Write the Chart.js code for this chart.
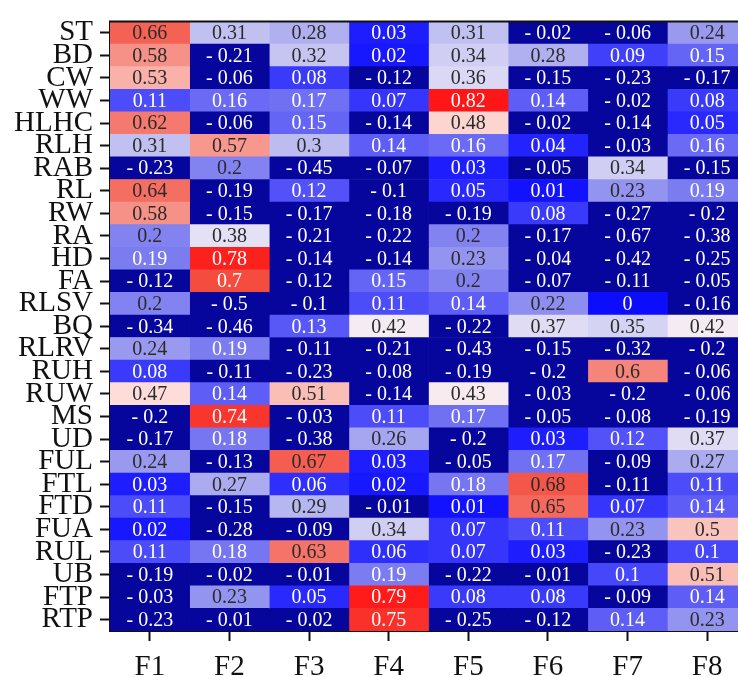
<!DOCTYPE html>
<html>
<head>
<meta charset="utf-8">
<script src="https://cdn.jsdelivr.net/npm/chart.js@4/dist/chart.umd.min.js"></script>
<style>
  html, body { margin: 0; padding: 0; background: #fff; overflow: hidden; }
  #wrap { position: absolute; left: 0; top: 0; width: 760px; height: 700px; }
</style>
</head>
<body>
<div id="wrap"><canvas id="heat" width="760" height="700"></canvas></div>
<script>
// Trait names (rows, top to bottom) and factor names (columns)
const rowLabels = ['ST', 'BD', 'CW', 'WW', 'HLHC', 'RLH', 'RAB', 'RL', 'RW', 'RA', 'HD', 'FA', 'RLSV',
  'BQ', 'RLRV', 'RUH', 'RUW', 'MS', 'UD', 'FUL', 'FTL', 'FTD', 'FUA', 'RUL', 'UB', 'FTP', 'RTP'];
const colLabels = ['F1', 'F2', 'F3', 'F4', 'F5', 'F6', 'F7', 'F8'];

// Factor loadings, one array per factor, in row order
const colF1 = [0.66, 0.58, 0.53, 0.11, 0.62, 0.31, -0.23, 0.64, 0.58, 0.2, 0.19, -0.12, 0.2,
  -0.34, 0.24, 0.08, 0.47, -0.2, -0.17, 0.24, 0.03, 0.11, 0.02, 0.11, -0.19, -0.03, -0.23];
const colF2 = [0.31, -0.21, -0.06, 0.16, -0.06, 0.57, 0.2, -0.19, -0.15, 0.38, 0.78, 0.7, -0.5,
  -0.46, 0.19, -0.11, 0.14, 0.74, 0.18, -0.13, 0.27, -0.15, -0.28, 0.18, -0.02, 0.23, -0.01];
const colF3 = [0.28, 0.32, 0.08, 0.17, 0.15, 0.3, -0.45, 0.12, -0.17, -0.21, -0.14, -0.12, -0.1,
  0.13, -0.11, -0.23, 0.51, -0.03, -0.38, 0.67, 0.06, 0.29, -0.09, 0.63, -0.01, 0.05, -0.02];
const colF4 = [0.03, 0.02, -0.12, 0.07, -0.14, 0.14, -0.07, -0.1, -0.18, -0.22, -0.14, 0.15, 0.11,
  0.42, -0.21, -0.08, -0.14, 0.11, 0.26, 0.03, 0.02, -0.01, 0.34, 0.06, 0.19, 0.79, 0.75];
const colF5 = [0.31, 0.34, 0.36, 0.82, 0.48, 0.16, 0.03, 0.05, -0.19, 0.2, 0.23, 0.2, 0.14,
  -0.22, -0.43, -0.19, 0.43, 0.17, -0.2, -0.05, 0.18, 0.01, 0.07, 0.07, -0.22, 0.08, -0.25];
const colF6 = [-0.02, 0.28, -0.15, 0.14, -0.02, 0.04, -0.05, 0.01, 0.08, -0.17, -0.04, -0.07, 0.22,
  0.37, -0.15, -0.2, -0.03, -0.05, 0.03, 0.17, 0.68, 0.65, 0.11, 0.03, -0.01, 0.08, -0.12];
const colF7 = [-0.06, 0.09, -0.23, -0.02, -0.14, -0.03, 0.34, 0.23, -0.27, -0.67, -0.42, -0.11, 0,
  0.35, -0.32, 0.6, -0.2, -0.08, 0.12, -0.09, -0.11, 0.07, 0.23, -0.23, 0.1, -0.09, 0.14];
const colF8 = [0.24, 0.15, -0.17, 0.08, 0.05, 0.16, -0.15, 0.19, -0.2, -0.38, -0.25, -0.05, -0.16,
  0.42, -0.2, -0.06, -0.06, -0.19, 0.37, 0.27, 0.11, 0.14, 0.5, 0.1, 0.51, 0.14, 0.23];

const columns = [colF1, colF2, colF3, colF4, colF5, colF6, colF7, colF8];

// Colour scale: negatives in navy, then blue -> white -> red
const NEGATIVE_RGB = [6, 6, 156];
const STOPS = [
  [0.0, [12, 12, 255]],
  [0.1, [70, 70, 250]],
  [0.2, [130, 130, 240]],
  [0.3, [188, 188, 240]],
  [0.4, [238, 234, 246]],
  [0.45, [255, 236, 236]],
  [0.5, [250, 196, 190]],
  [0.6, [245, 132, 122]],
  [0.7, [244, 76, 62]],
  [0.8, [255, 22, 22]]
];

function colourFor(v) {
  let rgb;
  if (v < 0) {
    rgb = NEGATIVE_RGB;
  } else if (v >= STOPS[STOPS.length - 1][0]) {
    rgb = STOPS[STOPS.length - 1][1];
  } else {
    for (let i = 0; i < STOPS.length - 1; i++) {
      const [a, ca] = STOPS[i];
      const [b, cb] = STOPS[i + 1];
      if (v >= a && v <= b) {
        const t = (v - a) / (b - a);
        rgb = ca.map((x, k) => Math.round(x + (cb[k] - x) * t));
        break;
      }
    }
  }
  return `rgb(${rgb[0]},${rgb[1]},${rgb[2]})`;
}

function textColourFor(v) {
  return (v >= 0.195 && v < 0.695) ? '#2b2b2b' : '#ffffff';
}

function formatValue(v) {
  if (v < 0) return '- ' + String(Math.abs(v));
  return String(v);
}

const SERIF = '"Liberation Serif", "Times New Roman", Times, serif';

// Each factor is a row of floating bars spanning [c, c + 1] on the x scale
const datasets = columns.map((vals, c) => ({
  label: colLabels[c],
  data: vals.map(() => [c, c + 1]),
  backgroundColor: vals.map(colourFor),
  borderWidth: 0,
  barPercentage: 1,
  categoryPercentage: 1,
  grouped: false
}));

// Writes each loading inside its cell and draws the frame's top edge
const cellText = {
  id: 'cellText',
  afterDatasetsDraw(chart) {
    const { ctx, scales: { x, y }, chartArea } = chart;
    ctx.save();
    ctx.font = `20px ${SERIF}`;
    ctx.textAlign = 'center';
    ctx.textBaseline = 'middle';
    columns.forEach((vals, c) => {
      const px = x.getPixelForValue(c + 0.5);
      vals.forEach((v, r) => {
        const py = y.getPixelForValue(r);
        ctx.fillStyle = textColourFor(v);
        ctx.fillText(formatValue(v), px, py + 1);
      });
    });
    ctx.strokeStyle = '#111';
    ctx.lineWidth = 2;
    ctx.beginPath();
    ctx.moveTo(chartArea.left - 1, chartArea.top);
    ctx.lineTo(chartArea.right + 1, chartArea.top);
    ctx.stroke();
    ctx.restore();
  }
};

new Chart(document.getElementById('heat'), {
  type: 'bar',
  data: { labels: rowLabels, datasets },
  plugins: [cellText],
  options: {
    indexAxis: 'y',
    responsive: false,
    animation: false,
    devicePixelRatio: 1,
    layout: { padding: { top: 16, right: 13, left: 0, bottom: 0 } },
    plugins: { legend: { display: false }, tooltip: { enabled: false } },
    scales: {
      x: {
        type: 'linear',
        min: 0,
        max: colLabels.length,
        afterBuildTicks(scale) {
          scale.ticks = colLabels.map((_, i) => ({ value: i + 0.5 }));
        },
        afterFit(scale) { scale.height = 69; },
        ticks: {
          callback: (val) => colLabels[Math.round(val - 0.5)],
          font: { family: SERIF, size: 29, lineHeight: 1 },
          color: '#111',
          padding: 12,
          maxRotation: 0,
          autoSkip: false
        },
        grid: {
          display: true,
          drawOnChartArea: false,
          drawTicks: true,
          tickLength: 10,
          tickWidth: 2,
          color: '#111'
        },
        border: { display: true, color: '#111', width: 2 }
      },
      y: {
        type: 'category',
        afterFit(scale) { scale.width = 110; },
        ticks: {
          font: { family: SERIF, size: 29, lineHeight: 1 },
          color: '#111',
          padding: 7,
          autoSkip: false
        },
        grid: {
          display: true,
          offset: false,
          drawOnChartArea: false,
          drawTicks: true,
          tickLength: 10,
          tickWidth: 2,
          color: '#111'
        },
        border: { display: true, color: '#111', width: 2 }
      }
    }
  }
});
</script>
</body>
</html>
